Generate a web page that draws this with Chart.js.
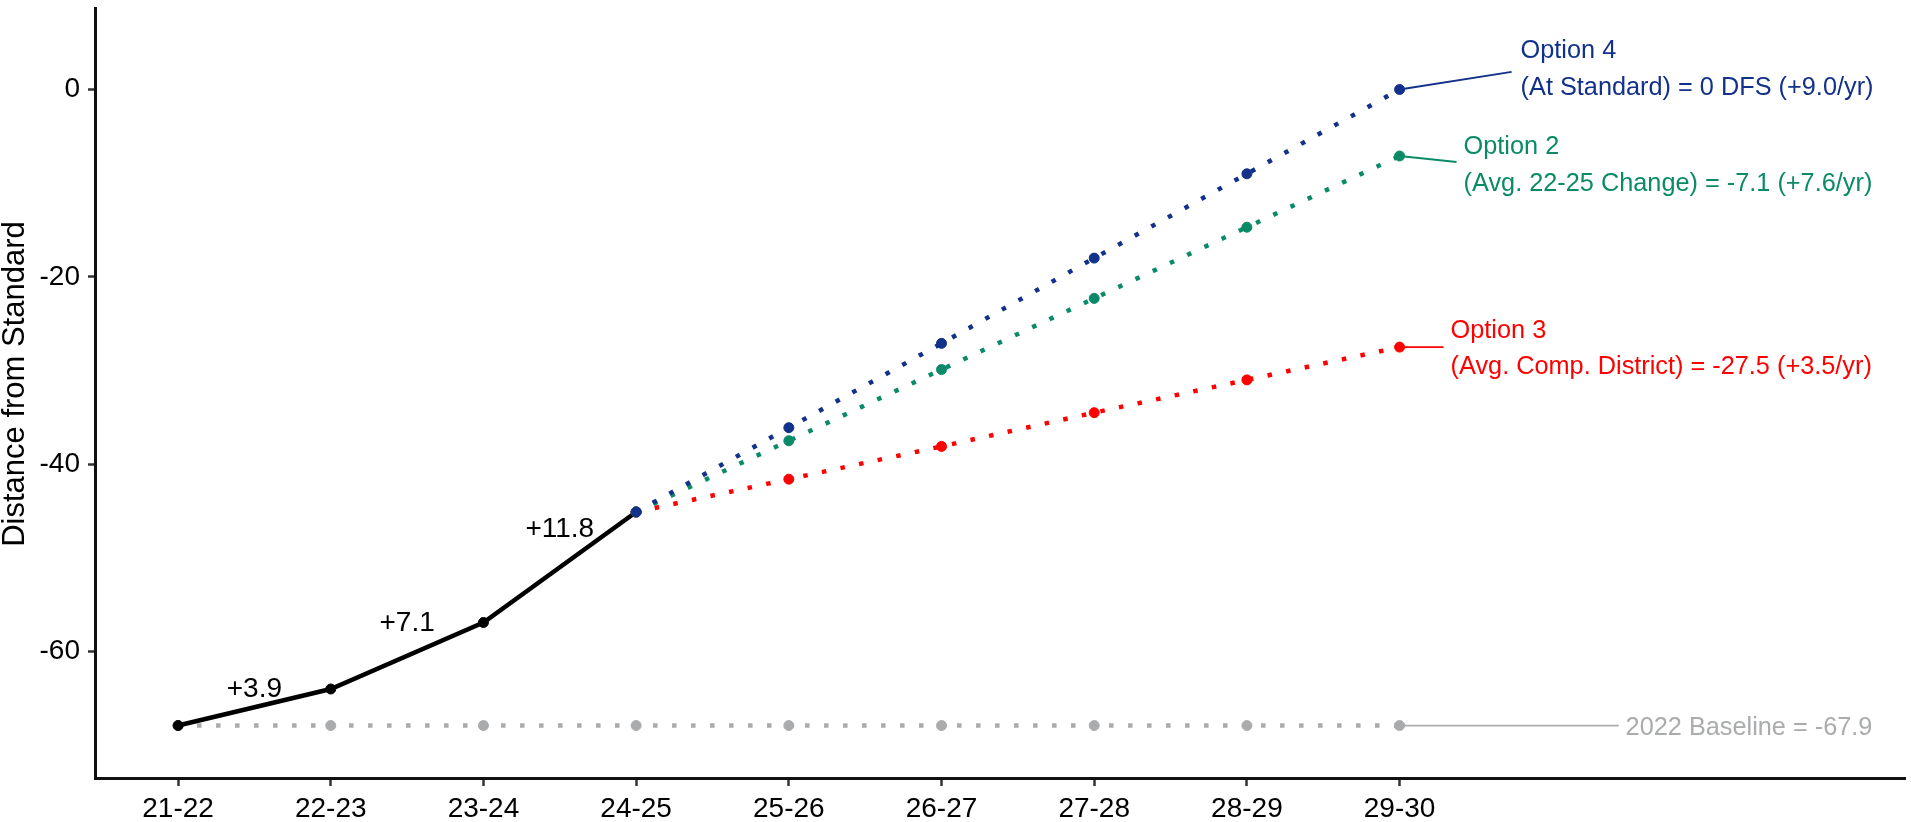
<!DOCTYPE html>
<html>
<head>
<meta charset="utf-8">
<script src="https://cdn.jsdelivr.net/npm/chart.js@4/dist/chart.umd.min.js"></script>
<style>
  html, body { margin: 0; padding: 0; background: #ffffff; }
  #wrap { width: 1911px; height: 822px; position: relative; }
</style>
</head>
<body>
<div id="wrap"><canvas id="c"></canvas></div>
<script>
// ---- data ----
const categories = ['21-22', '22-23', '23-24', '24-25', '25-26', '26-27', '27-28', '28-29', '29-30'];
const actual   = [-67.9, -64.0, -56.9, -45.1, null, null, null, null, null];
const option4  = [null, null, null, -45.1, -36.1, -27.1, -18.0, -9.0, 0.0];
const option2  = [null, null, null, -45.1, -37.5, -29.9, -22.3, -14.7, -7.1];
const option3  = [null, null, null, -45.1, -41.6, -38.1, -34.5, -31.0, -27.5];
const baseline = [-67.9, -67.9, -67.9, -67.9, -67.9, -67.9, -67.9, -67.9, -67.9];
const deltaLabels = ['+3.9', '+7.1', '+11.8'];
const yTicks = [-60, -40, -20, 0];
const yTitle = 'Distance from Standard';
const option4Label = ['Option 4', '(At Standard) = 0 DFS (+9.0/yr)'];
const option2Label = ['Option 2', '(Avg. 22-25 Change) = -7.1 (+7.6/yr)'];
const option3Label = ['Option 3', '(Avg. Comp. District) = -27.5 (+3.5/yr)'];
const baselineLabel = ['2022 Baseline = -67.9'];

// ---- styles ----
const FONT = "'Liberation Sans', Arial, Helvetica, sans-serif";
const NAVY = '#12318a';
const TEAL = '#0b8a68';
const RED = '#ff0000';
const GREY = '#a9abad';
const BLACK = '#000000';

function pts(arr) {
  return arr.map((v, i) => ({ x: i, y: v }));
}

function dotted(label, arr, color) {
  return {
    label: label,
    data: pts(arr),
    borderColor: color,
    backgroundColor: color,
    borderWidth: 4.5,
    borderDash: [4.5, 14.5],
    borderCapStyle: 'butt',
    pointRadius: 5,
    pointBorderWidth: 1,
    pointBorderColor: color,
    pointBackgroundColor: color,
    tension: 0,
    spanGaps: false
  };
}

const annotationPlugin = {
  id: 'annos',
  afterDatasetsDraw(chart) {
    const ctx = chart.ctx;
    const xs = chart.scales.x, ys = chart.scales.y;
    const area = chart.chartArea;
    const last = categories.length - 1;
    ctx.save();

    // y-axis title
    ctx.save();
    ctx.translate(15, (area.top + area.bottom) / 2 - 9);
    ctx.rotate(-Math.PI / 2);
    ctx.font = '31px ' + FONT;
    ctx.fillStyle = BLACK;
    ctx.textAlign = 'center';
    ctx.textBaseline = 'middle';
    ctx.fillText(yTitle, 0, 0);
    ctx.restore();

    // delta labels on actual segments
    const offs = [18, 32, 38];
    ctx.font = '28px ' + FONT;
    ctx.fillStyle = BLACK;
    ctx.textAlign = 'center';
    ctx.textBaseline = 'middle';
    deltaLabels.forEach((t, i) => {
      const x = (xs.getPixelForValue(i) + xs.getPixelForValue(i + 1)) / 2;
      const y = (ys.getPixelForValue(actual[i]) + ys.getPixelForValue(actual[i + 1])) / 2 - offs[i];
      ctx.fillText(t, x, y);
    });

    // end labels with connectors
    const items = [
      { arr: option4, lines: option4Label, color: NAVY, ex: 112, ey: -17.6, tx: 121, b1: -31, b2: 5.5 },
      { arr: option2, lines: option2Label, color: TEAL, ex: 57, ey: 6, tx: 64, b1: -2, b2: 35 },
      { arr: option3, lines: option3Label, color: RED, ex: 44, ey: 0, tx: 51, b1: -9.5, b2: 27 },
      { arr: baseline, lines: baselineLabel, color: GREY, ex: 219, ey: 0, tx: 226, b1: 9, b2: null }
    ];
    ctx.font = '25.3px ' + FONT;
    ctx.textAlign = 'left';
    ctx.textBaseline = 'alphabetic';
    items.forEach(it => {
      const px = xs.getPixelForValue(last);
      const py = ys.getPixelForValue(it.arr[last]);
      ctx.strokeStyle = it.color;
      ctx.lineWidth = 1.8;
      ctx.beginPath();
      ctx.moveTo(px, py);
      ctx.lineTo(px + it.ex, py + it.ey);
      ctx.stroke();
      ctx.fillStyle = it.color;
      ctx.fillText(it.lines[0], px + it.tx, py + it.b1);
      if (it.lines[1]) ctx.fillText(it.lines[1], px + it.tx, py + it.b2);
    });
    ctx.restore();
  }
};

const chart = new Chart(document.getElementById('c'), {
  type: 'line',
  data: {
    datasets: [
      dotted('Option 4', option4, NAVY),
      dotted('Option 2', option2, TEAL),
      dotted('Option 3', option3, RED),
      {
        label: 'Actual',
        data: pts(actual),
        borderColor: BLACK,
        backgroundColor: BLACK,
        borderWidth: 4.5,
        pointRadius: 5,
        pointBorderWidth: 1,
        pointBackgroundColor: BLACK,
        pointBorderColor: BLACK,
        tension: 0
      },
      dotted('2022 Baseline', baseline, GREY)
    ]
  },
  options: {
    responsive: true,
    maintainAspectRatio: false,
    animation: false,
    layout: { padding: { top: 8, left: 0, right: 0, bottom: 0 } },
    plugins: {
      legend: { display: false },
      tooltip: { enabled: false }
    },
    scales: {
      x: {
        type: 'linear',
        min: -0.544,
        max: 11.31,
        afterBuildTicks(scale) {
          scale.ticks = categories.map((c, i) => ({ value: i }));
        },
        afterFit(scale) {
          scale.height = 44;
          scale.paddingLeft = 0;
          scale.paddingRight = 0;
        },
        ticks: {
          autoSkip: false,
          maxRotation: 0,
          minRotation: 0,
          padding: 6,
          color: BLACK,
          font: { size: 28, family: FONT },
          callback: (v) => categories[v]
        },
        grid: {
          display: true,
          drawOnChartArea: false,
          drawTicks: true,
          tickLength: 8,
          tickWidth: 2.5,
          tickColor: '#333333'
        },
        border: { display: true, width: 3, color: '#111111' }
      },
      y: {
        type: 'linear',
        min: -73.5,
        max: 8.7,
        afterBuildTicks(scale) {
          scale.ticks = yTicks.map(v => ({ value: v }));
        },
        afterFit(scale) {
          scale.width = 95;
          scale.paddingTop = 0;
          scale.paddingBottom = 0;
        },
        ticks: {
          padding: 8,
          color: BLACK,
          font: { size: 28, family: FONT },
          callback: (v) => String(v)
        },
        grid: {
          display: true,
          drawOnChartArea: false,
          drawTicks: true,
          tickLength: 7,
          tickWidth: 2.5,
          tickColor: '#333333'
        },
        border: { display: true, width: 3, color: '#111111' },
        title: { display: false }
      }
    }
  },
  plugins: [annotationPlugin]
});
</script>
</body>
</html>
